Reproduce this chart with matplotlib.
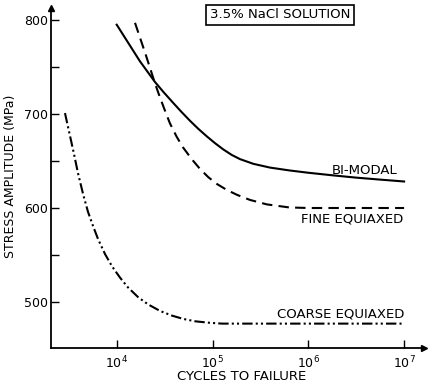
import numpy as np
import matplotlib
matplotlib.use("Agg")
import matplotlib.pyplot as plt
from matplotlib.ticker import FixedLocator, LogFormatterMathtext, NullLocator

# ---- data (cycles given as log10 exponents) ----
bimodal_log_cycles = [4.000, 4.243, 4.400, 4.487, 4.588, 4.678, 4.765, 4.852, 4.943, 5.026, 5.110,
                      5.200, 5.287, 5.426, 5.600, 5.800, 6.000, 6.250, 6.500, 6.750, 7.000]
bimodal_stress = [795, 756, 734, 723.5, 712, 702, 692.8, 684.2, 676, 669, 662.5,
                  656.5, 652, 647, 643, 640, 637.5, 634.8, 632.3, 630.2, 628.2]

fine_log_cycles = [4.191, 4.300, 4.400, 4.452, 4.504, 4.556, 4.626, 4.692, 4.783, 4.870, 4.956,
                   5.047, 5.148, 5.256, 5.391, 5.569, 5.800, 6.000, 7.000]
fine_stress = [797, 764, 732.5, 717.5, 703.5, 690, 675.8, 664.5, 652, 641.5, 632.8,
               625.5, 619.3, 614, 608.6, 603.8, 600.6, 600, 600]

coarse_log_cycles = [3.460, 3.489, 3.513, 3.554, 3.596, 3.651, 3.700, 3.756, 3.805, 3.878, 3.951,
                     4.034, 4.118, 4.225, 4.327, 4.452, 4.577, 4.695, 4.817, 4.956, 5.099, 7.000]
coarse_stress = [701, 687.5, 676.5, 657.5, 637, 614, 596, 580, 567, 551, 538,
                 526, 515.5, 505, 497.5, 490.5, 485.5, 482, 479.5, 478, 477, 477]

x_ticks = [1e4, 1e5, 1e6, 1e7]
y_major = [500, 600, 700, 800]
y_minor = [550, 650, 750]

plt.rcParams['font.family'] = ['DejaVu Sans']

fig = plt.figure(figsize=(4.34, 3.89), dpi=100)
ax = fig.add_axes([50.7/434, (389-347.5)/389, (424-50.7)/434, (347.5-8)/389])

def cyc(logs):
    return [10.0 ** v for v in logs]

ax.plot(cyc(bimodal_log_cycles), bimodal_stress, color='black', lw=1.5, solid_joinstyle='round')
ax.plot(cyc(fine_log_cycles), fine_stress, color='black', lw=1.5, linestyle=(0, (5, 3)))
ax.plot(cyc(coarse_log_cycles), coarse_stress, color='black', lw=1.5,
        linestyle=(0, (5, 1.5, 1, 1.5, 1, 1.5)))

ax.set_xscale('log')
ax.set_xlim(10**3.311, 10**(4 + (424-116.7)/95.8))
ax.set_ylim(800 - (347.5-20)/0.94, 800 + 12/0.94)

ax.xaxis.set_major_locator(FixedLocator(x_ticks))
ax.xaxis.set_major_formatter(LogFormatterMathtext())
ax.xaxis.set_minor_locator(NullLocator())
ax.set_yticks(y_major)
ax.set_yticks(y_minor, minor=True)

for s in ['top', 'right']:
    ax.spines[s].set_visible(False)
for s in ['left', 'bottom']:
    ax.spines[s].set_linewidth(1.3)

ax.tick_params(axis='both', which='both', direction='in', length=6, width=1.0, labelsize=9)
ax.tick_params(axis='y', pad=2)
ax.tick_params(axis='x', pad=5)

# axis arrows
ax.plot(1, 0, marker='>', color='black', markersize=5, transform=ax.transAxes, clip_on=False)
ax.plot(0, 1, marker='^', color='black', markersize=5, transform=ax.transAxes, clip_on=False)

fig.text(242/434, 1 - 377/389, 'CYCLES TO FAILURE', ha='center', va='center', fontsize=9.5)
fig.text(11/434, 1 - 176/389, 'STRESS AMPLITUDE (MPa)', ha='center', va='center', rotation=90, fontsize=9)

fig.text(280/434, 1 - 15/389, '3.5% NaCl SOLUTION', ha='center', va='center', fontsize=9.5,
         bbox=dict(boxstyle='square,pad=0.3', facecolor='white', edgecolor='black', linewidth=1.2))

fig.text(365/434, 1 - 170/389, 'BI-MODAL', ha='center', va='center', fontsize=9.5)
fig.text(352/434, 1 - 219/389, 'FINE EQUIAXED', ha='center', va='center', fontsize=9.5)
fig.text(341/434, 1 - 314/389, 'COARSE EQUIAXED', ha='center', va='center', fontsize=9.5)

fig.savefig('out.png', dpi=100)
